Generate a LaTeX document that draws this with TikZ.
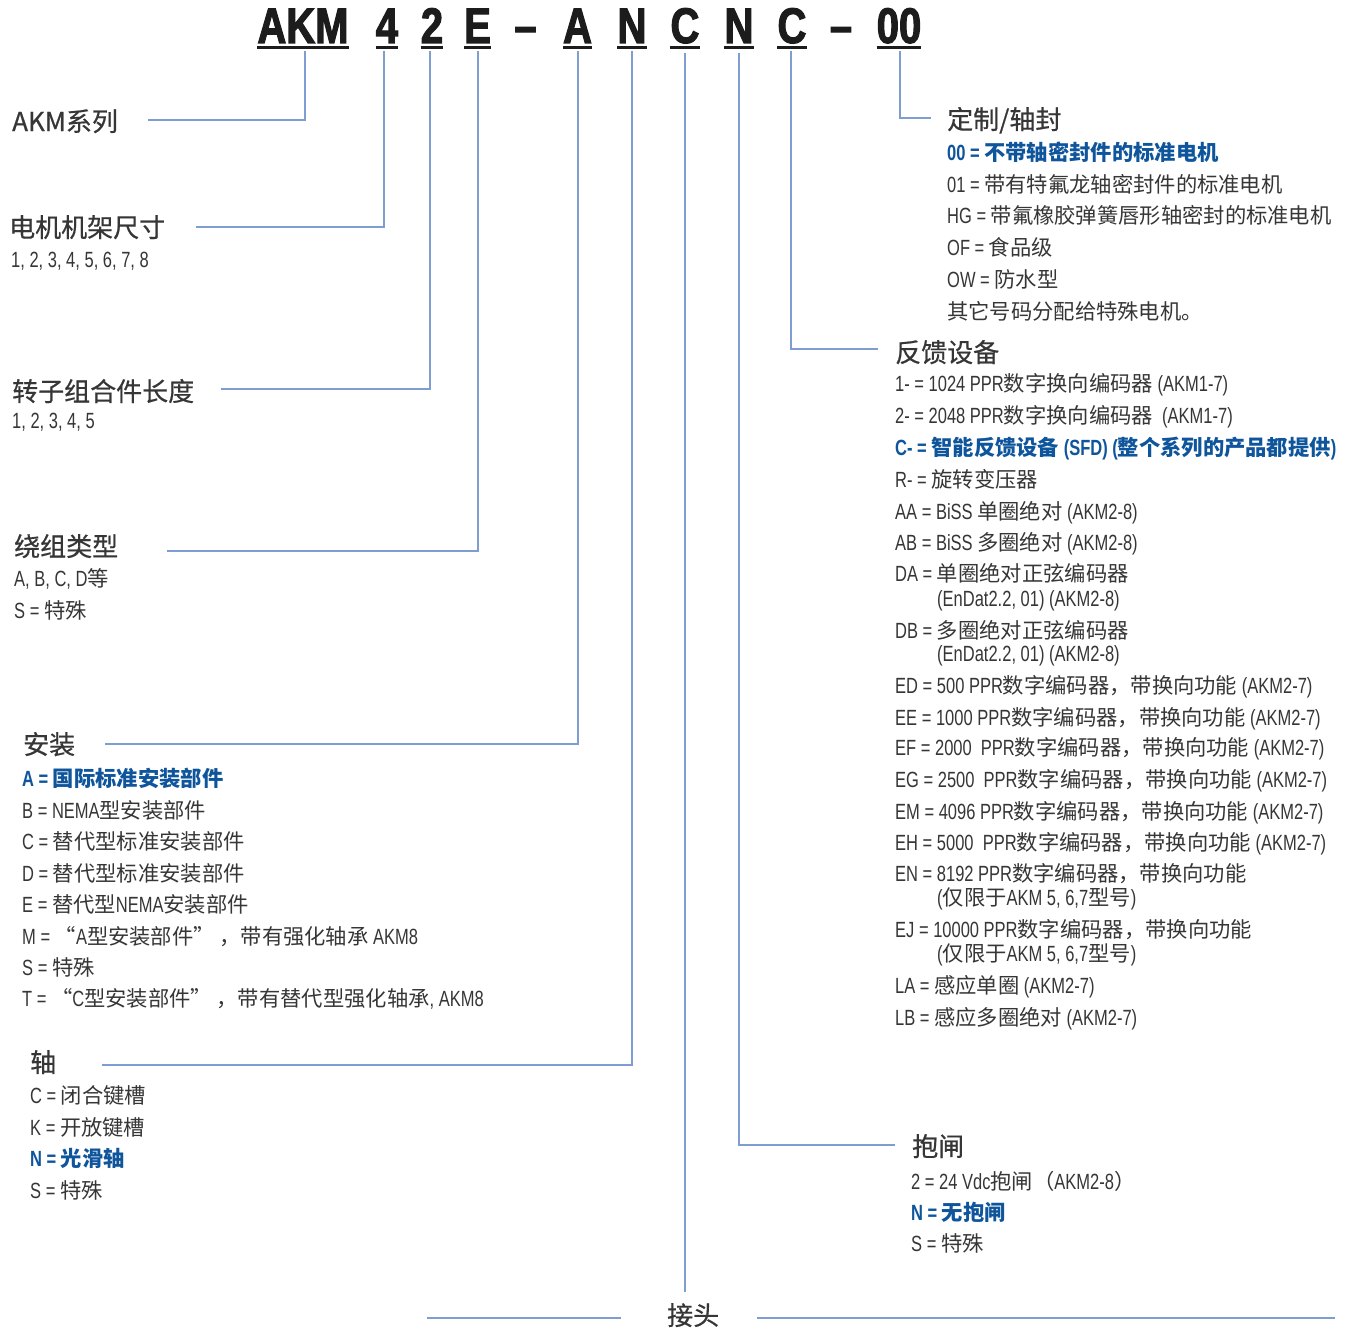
\documentclass[tikz,border=0pt]{standalone}
\usepackage{fontspec}
\setmainfont{Liberation Sans}[FakeStretch=0.75,Scale=1.033]
\newfontfamily\cjkfam{Noto Sans CJK SC}
\newfontfamily\cjkhd{Noto Sans CJK SC}[FakeBold=0.6]
\newfontfamily\codefam{Liberation Sans}[FakeStretch=0.8,FakeBold=2.2]
\let\curcjk\cjkfam
\XeTeXinterchartokenstate=1
\newXeTeXintercharclass\CJKcls
\newcount\mycnt
\def\setcls#1#2{\mycnt=#1\relax\loop\XeTeXcharclass\mycnt=\CJKcls\relax\ifnum\mycnt<#2\relax\advance\mycnt by 1\relax\repeat}
\setcls{"3000}{"303F}
\setcls{"4E00}{"9FFF}
\setcls{"FF00}{"FFEF}
\setcls{"2018}{"201D}
\XeTeXinterchartoks 0 \CJKcls = {\begingroup\curcjk}
\XeTeXinterchartoks 4095 \CJKcls = {\begingroup\curcjk}
\XeTeXinterchartoks \CJKcls 0 = {\endgroup}
\XeTeXinterchartoks \CJKcls 4095 = {\endgroup}
\definecolor{lnc}{HTML}{7F9DD1}
\definecolor{txt}{HTML}{363636}
\definecolor{blu}{HTML}{0F559C}
\definecolor{codec}{HTML}{1C1C1C}
\tikzset{
 ln/.style={draw=lnc, line width=1.4pt},
 ul/.style={draw=codec, line width=3pt},
 code/.style={anchor=base, inner sep=0pt, text=codec, font=\codefam\bfseries\fontsize{50}{56}\selectfont},
 hd/.style={anchor=base west, inner sep=0pt, text=txt, font=\let\curcjk\cjkhd\cjkhd\fontsize{26}{30}\selectfont},
 it/.style={anchor=base west, inner sep=0pt, text=txt, font=\fontsize{21.3}{26}\selectfont},
 bl/.style={anchor=base west, inner sep=0pt, text=blu, font=\bfseries\fontsize{21.3}{26}\selectfont},
}
\begin{document}
\begin{tikzpicture}[x=1pt,y=-1pt]
\useasboundingbox[fill=white] (0,0) rectangle (1360,1330);
% code letters
\node[code] (cAKM) at (303,43) {AKM};
\node[code] (c4) at (387,43) {4};
\node[code] (c2) at (432,43) {2};
\node[code] (cE) at (477.5,43) {E};
\node[code] (d1) at (525.5,43) {–};
\node[code] (cA) at (577.5,43) {A};
\node[code] (cN1) at (632,43) {N};
\node[code] (cC1) at (685,43) {C};
\node[code] (cN2) at (739,43) {N};
\node[code] (cC2) at (792,43) {C};
\node[code] (d2) at (841,43) {–};
\node[code] (c00) at (899,43) {00};
\foreach \n in {cAKM,c4,c2,cE,cA,cN1,cC1,cN2,cC2,c00}{
  \draw[ul] ([yshift=-4.5pt]\n.base west) -- ([yshift=-4.5pt]\n.base east);
}
% left headers and items
\node[hd] (hAKM) at (12,131) {AKM系列};
\node[hd] (hFrame) at (9,237) {电机机架尺寸};
\node[it] (iFrame) at (11,267) {1, 2, 3, 4, 5, 6, 7, 8};
\node[hd] (hRotor) at (12,401) {转子组合件长度};
\node[it] (iRotor) at (12,428) {1, 2, 3, 4, 5};
\node[hd] (hWind) at (14,556) {绕组类型};
\node[it] (iW1) at (14,586) {A, B, C, D等};
\node[it] (iW2) at (14,618) {S = 特殊};
\node[hd] (hMount) at (23,754) {安装};
\node[bl] (iM1) at (22,786) {A = 国际标准安装部件};
\node[it] (iM2) at (22,818) {B = NEMA型安装部件};
\node[it] (iM3) at (22,849) {C = 替代型标准安装部件};
\node[it] (iM4) at (22,881) {D = 替代型标准安装部件};
\node[it] (iM5) at (22,912) {E = 替代型NEMA安装部件};
\node[it] (iM6) at (22,944) {M = “A型安装部件”\ ，带有强化轴承 AKM8};
\node[it] (iM7) at (22,975) {S = 特殊};
\node[it] (iM8) at (22,1006) {T = “C型安装部件”\ ，带有替代型强化轴承, AKM8};
\node[hd] (hShaft) at (30,1072) {轴};
\node[it] (iS1) at (30,1103) {C = 闭合键槽};
\node[it] (iS2) at (30,1135) {K = 开放键槽};
\node[bl] (iS3) at (30,1166) {N = 光滑轴};
\node[it] (iS4) at (30,1198) {S = 特殊};
\node[hd] (hConn) at (667,1325) {接头};
% right headers and items
\node[hd] (hSeal) at (947,129) {定制/轴封};
\node[bl] (iC1) at (947,160) {00 = 不带轴密封件的标准电机};
\node[it] (iC2) at (947,192) {01 = 带有特氟龙轴密封件的标准电机};
\node[it] (iC3) at (947,223) {HG = 带氟橡胶弹簧唇形轴密封的标准电机};
\node[it] (iC4) at (947,255) {OF = 食品级};
\node[it] (iC5) at (947,287) {OW = 防水型};
\node[it] (iC6) at (947,319) {其它号码分配给特殊电机。};
\node[hd] (hFb) at (895,362) {反馈设备};
\node[it] (f1) at (895,391) {1- = 1024 PPR数字换向编码器 (AKM1-7)};
\node[it] (f2) at (895,423) {2- = 2048 PPR数字换向编码器\ \ (AKM1-7)};
\node[bl] (f3) at (895,455) {C- = 智能反馈设备 (SFD) (整个系列的产品都提供)};
\node[it] (f4) at (895,487) {R- = 旋转变压器};
\node[it] (f5) at (895,519) {AA = BiSS 单圈绝对 (AKM2-8)};
\node[it] (f6) at (895,550) {AB = BiSS 多圈绝对 (AKM2-8)};
\node[it] (f7) at (895,581) {DA = 单圈绝对正弦编码器};
\node[it] (f7b) at (937,606) {(EnDat2.2, 01) (AKM2-8)};
\node[it] (f8) at (895,638) {DB = 多圈绝对正弦编码器};
\node[it] (f8b) at (937,661) {(EnDat2.2, 01) (AKM2-8)};
\node[it] (f9) at (895,693) {ED = 500 PPR数字编码器，带换向功能 (AKM2-7)};
\node[it] (f10) at (895,725) {EE = 1000 PPR数字编码器，带换向功能 (AKM2-7)};
\node[it] (f11) at (895,755) {EF = 2000\ \ PPR数字编码器，带换向功能 (AKM2-7)};
\node[it] (f12) at (895,787) {EG = 2500\ \ PPR数字编码器，带换向功能 (AKM2-7)};
\node[it] (f13) at (895,819) {EM = 4096 PPR数字编码器，带换向功能 (AKM2-7)};
\node[it] (f14) at (895,850) {EH = 5000\ \ PPR数字编码器，带换向功能 (AKM2-7)};
\node[it] (f15) at (895,881) {EN = 8192 PPR数字编码器，带换向功能};
\node[it] (f15b) at (937,905) {(仅限于AKM 5, 6,7型号)};
\node[it] (f16) at (895,937) {EJ = 10000 PPR数字编码器，带换向功能};
\node[it] (f16b) at (937,961) {(仅限于AKM 5, 6,7型号)};
\node[it] (f17) at (895,993) {LA = 感应单圈 (AKM2-7)};
\node[it] (f18) at (895,1025) {LB = 感应多圈绝对 (AKM2-7)};
\node[hd] (hBrake) at (912,1156) {抱闸};
\node[it] (b1) at (911,1189) {2 = 24 Vdc抱闸（AKM2-8）};
\node[bl] (b2) at (911,1220) {N = 无抱闸};
\node[it] (b3) at (911,1251) {S = 特殊};
% connector coordinates
\coordinate (s1) at (305,51);  \coordinate (e1) at (148,120);
\coordinate (s2) at (384,51);  \coordinate (e2) at (196,227);
\coordinate (s3) at (430,51);  \coordinate (e3) at (221,389);
\coordinate (s4) at (478,51);  \coordinate (e4) at (167,551);
\coordinate (s5) at (578,51);  \coordinate (e5) at (105,744);
\coordinate (s6) at (632,51);  \coordinate (e6) at (102,1065);
\coordinate (s7) at (685,53);  \coordinate (e7) at (685,1292);
\coordinate (s8) at (739,53);  \coordinate (e8) at (895,1145);
\coordinate (s9) at (791,51);  \coordinate (e9) at (878,349);
\coordinate (s10) at (900,51); \coordinate (e10) at (931,118);
\coordinate (bA) at (427,1318); \coordinate (bB) at (621,1318);
\coordinate (bC) at (757,1318); \coordinate (bD) at (1335,1318);
\draw[ln] (s1) |- (e1);
\draw[ln] (s2) |- (e2);
\draw[ln] (s3) |- (e3);
\draw[ln] (s4) |- (e4);
\draw[ln] (s5) |- (e5);
\draw[ln] (s6) |- (e6);
\draw[ln] (s7) -- (e7);
\draw[ln] (s8) |- (e8);
\draw[ln] (s9) |- (e9);
\draw[ln] (s10) |- (e10);
\draw[ln] (bA) -- (bB);
\draw[ln] (bC) -- (bD);
\end{tikzpicture}
\end{document}
